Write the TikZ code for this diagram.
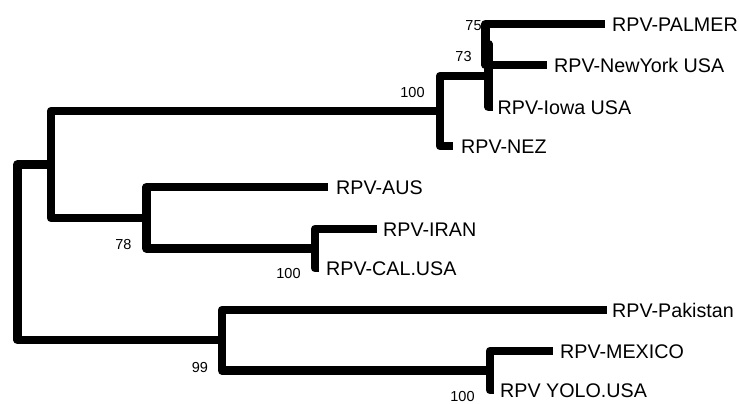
\documentclass[tikz,border=0pt]{standalone}
\usepackage{fontspec}
\setmainfont{Liberation Sans}
\usetikzlibrary{positioning}

\begin{document}
\begin{tikzpicture}[x=1pt, y=-1pt,
branch/.style={line width=8.5pt, line join=round},
leaf/.style={font=\fontsize{19.7}{19.7}\selectfont, inner sep=0pt, text height=14.1pt, text depth=0pt},
boot/.style={font=\fontsize{14.5}{14.5}\selectfont, inner sep=0pt}]
\useasboundingbox (0,0) rectangle (739,404);
% internal nodes
\coordinate (root) at (17.5,252);
\coordinate (nA) at (51,164.5);
\coordinate (n100a) at (440,111);
\coordinate (n73) at (488.5,76);
\coordinate (n75) at (485.5,44);
\coordinate (n78) at (146.5,218);
\coordinate (n100b) at (315,248.5);
\coordinate (n99) at (222,340);
\coordinate (n100c) at (490,370.5);
% tips
\coordinate (tPalmer) at (605,24);
\coordinate (tNewYork) at (547,65);
\coordinate (tIowa) at (492.5,107);
\coordinate (tNez) at (453,146);
\coordinate (tAus) at (328,187);
\coordinate (tIran) at (377,229);
\coordinate (tCal) at (319,268);
\coordinate (tPak) at (607,310);
\coordinate (tMex) at (553,351);
\coordinate (tYolo) at (494,390);
% branches
\draw[branch] (root) |- (nA);
\draw[branch] (root) |- (n99);
\draw[branch] (nA) |- (n100a);
\draw[branch] (nA) |- (n78);
\draw[branch] (n100a) |- (n73);
\draw[branch] (n100a) |- (tNez);
\draw[branch] (n73) |- (n75);
\draw[branch] (n73) |- (tIowa);
\draw[branch] (n75) |- (tPalmer);
\draw[branch] (n75) |- (tNewYork);
\draw[branch] (n78) |- (tAus);
\draw[branch] (n78) |- (n100b);
\draw[branch] (n100b) |- (tIran);
\draw[branch] (n100b) |- (tCal);
\draw[branch] (n99) |- (tPak);
\draw[branch] (n99) |- (n100c);
\draw[branch] (n100c) |- (tMex);
\draw[branch] (n100c) |- (tYolo);
% taxon names
\node[leaf, right=7pt of tPalmer] (lPalmer) {RPV-PALMER};
\node[leaf, right=7pt of tNewYork] (lNewYork) {RPV-NewYork USA};
\node[leaf, right=5pt of tIowa] (lIowa) {RPV-Iowa USA};
\node[leaf, right=8pt of tNez] (lNez) {RPV-NEZ};
\node[leaf, right=8pt of tAus] (lAus) {RPV-AUS};
\node[leaf, right=6pt of tIran] (lIran) {RPV-IRAN};
\node[leaf, right=7pt of tCal] (lCal) {RPV-CAL.USA};
\node[leaf, right=5pt of tPak] (lPak) {RPV-Pakistan};
\node[leaf, right=7pt of tMex] (lMex) {RPV-MEXICO};
\node[leaf, right=6pt of tYolo] (lYolo) {RPV YOLO.USA};
% bootstrap values
\node[boot] (b75) at (473.5,25.5) {75};
\node[boot] (b73) at (463.5,56.5) {73};
\node[boot] (b100a) at (412.5,93) {100};
\node[boot] (b78) at (123.5,245) {78};
\node[boot] (b100b) at (288.5,273.5) {100};
\node[boot] (b99) at (200,368) {99};
\node[boot] (b100c) at (462.5,397) {100};
\end{tikzpicture}
\end{document}
